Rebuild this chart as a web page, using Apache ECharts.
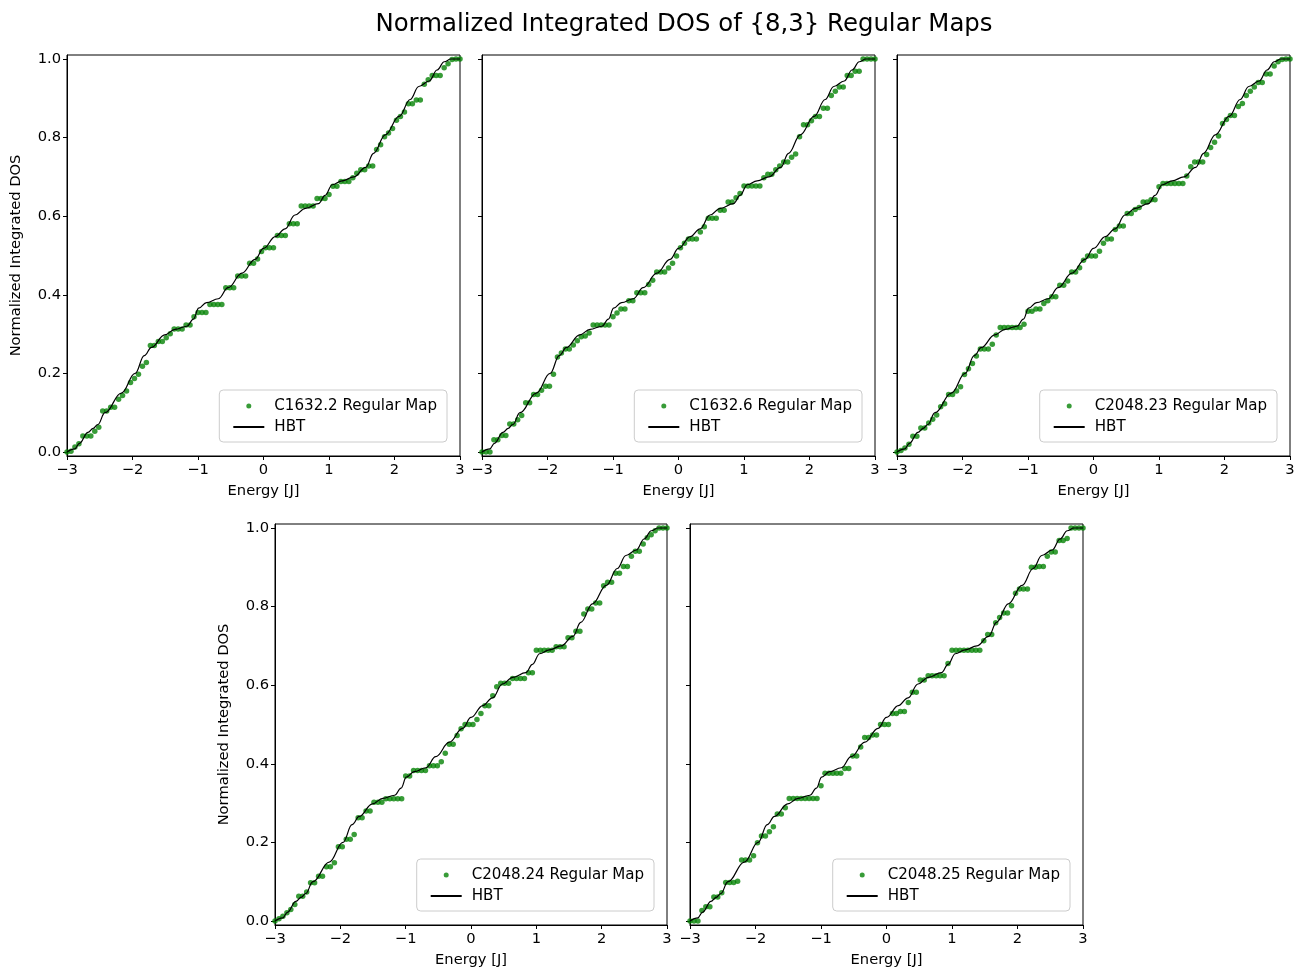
<!DOCTYPE html>
<html>
<head>
<meta charset="utf-8">
<title>Normalized Integrated DOS of {8,3} Regular Maps</title>
<script src="https://cdn.jsdelivr.net/npm/echarts@6/dist/echarts.min.js"></script>
<style>
  html, body { margin: 0; padding: 0; background: #fff; }
  #chart { width: 1305px; height: 972px; }
</style>
</head>
<body>
<div id="chart"></div>
<script>
// energy grid shared by all maps
var energy = [
  -3.000, -2.939, -2.879, -2.818, -2.758, -2.697, -2.636, -2.576, -2.515, -2.455,
  -2.394, -2.333, -2.273, -2.212, -2.152, -2.091, -2.030, -1.970, -1.909, -1.848,
  -1.788, -1.727, -1.667, -1.606, -1.545, -1.485, -1.424, -1.364, -1.303, -1.242,
  -1.182, -1.121, -1.061, -1.000, -0.939, -0.879, -0.818, -0.758, -0.697, -0.636,
  -0.576, -0.515, -0.455, -0.394, -0.333, -0.273, -0.212, -0.152, -0.091, -0.030,
  0.030, 0.091, 0.152, 0.212, 0.273, 0.333, 0.394, 0.455, 0.515, 0.576,
  0.636, 0.697, 0.758, 0.818, 0.879, 0.939, 1.000, 1.061, 1.121, 1.182,
  1.242, 1.303, 1.364, 1.424, 1.485, 1.545, 1.606, 1.667, 1.727, 1.788,
  1.848, 1.909, 1.970, 2.030, 2.091, 2.152, 2.212, 2.273, 2.333, 2.394,
  2.455, 2.515, 2.576, 2.636, 2.697, 2.758, 2.818, 2.879, 2.939, 3.000
]

var dosC1632_2 = [
  0.000, 0.002, 0.013, 0.021, 0.041, 0.041, 0.041, 0.053, 0.063, 0.104,
  0.104, 0.114, 0.114, 0.134, 0.144, 0.155, 0.177, 0.187, 0.198, 0.218,
  0.228, 0.271, 0.271, 0.281, 0.281, 0.291, 0.301, 0.313, 0.313, 0.313,
  0.323, 0.323, 0.344, 0.355, 0.355, 0.355, 0.375, 0.375, 0.375, 0.375,
  0.418, 0.418, 0.418, 0.448, 0.448, 0.448, 0.480, 0.480, 0.491, 0.510,
  0.520, 0.520, 0.520, 0.551, 0.551, 0.551, 0.581, 0.581, 0.581, 0.626,
  0.626, 0.626, 0.626, 0.645, 0.645, 0.645, 0.655, 0.676, 0.676, 0.688,
  0.688, 0.688, 0.698, 0.709, 0.718, 0.718, 0.728, 0.728, 0.770, 0.782,
  0.802, 0.812, 0.823, 0.844, 0.854, 0.865, 0.886, 0.886, 0.896, 0.896,
  0.936, 0.947, 0.958, 0.958, 0.958, 0.978, 0.988, 0.999, 1.000, 1.000
]

var dosC1632_6 = [
  0.000, 0.000, 0.000, 0.031, 0.031, 0.042, 0.042, 0.071, 0.071, 0.082,
  0.093, 0.125, 0.125, 0.146, 0.146, 0.157, 0.167, 0.167, 0.198, 0.242,
  0.252, 0.262, 0.262, 0.272, 0.283, 0.293, 0.295, 0.303, 0.323, 0.323,
  0.323, 0.323, 0.323, 0.344, 0.354, 0.364, 0.364, 0.385, 0.385, 0.405,
  0.405, 0.405, 0.426, 0.437, 0.458, 0.458, 0.458, 0.468, 0.480, 0.499,
  0.520, 0.531, 0.542, 0.542, 0.542, 0.560, 0.573, 0.595, 0.595, 0.595,
  0.615, 0.615, 0.636, 0.636, 0.647, 0.658, 0.677, 0.677, 0.677, 0.677,
  0.677, 0.698, 0.707, 0.707, 0.718, 0.728, 0.738, 0.738, 0.750, 0.758,
  0.802, 0.833, 0.833, 0.843, 0.854, 0.854, 0.875, 0.875, 0.907, 0.918,
  0.929, 0.929, 0.958, 0.958, 0.969, 0.969, 1.000, 1.000, 1.000, 1.000
]

var dosC2048_23 = [
  0.000, 0.004, 0.010, 0.020, 0.040, 0.040, 0.061, 0.061, 0.074, 0.083,
  0.094, 0.115, 0.123, 0.146, 0.146, 0.155, 0.166, 0.197, 0.212, 0.225,
  0.244, 0.262, 0.262, 0.262, 0.274, 0.298, 0.317, 0.317, 0.317, 0.317,
  0.317, 0.317, 0.325, 0.358, 0.358, 0.364, 0.364, 0.378, 0.385, 0.395,
  0.395, 0.424, 0.424, 0.435, 0.458, 0.458, 0.469, 0.488, 0.499, 0.499,
  0.499, 0.511, 0.531, 0.542, 0.542, 0.566, 0.575, 0.575, 0.607, 0.607,
  0.617, 0.622, 0.636, 0.636, 0.642, 0.642, 0.675, 0.683, 0.683, 0.683,
  0.683, 0.683, 0.683, 0.702, 0.726, 0.738, 0.738, 0.738, 0.757, 0.775,
  0.788, 0.804, 0.836, 0.846, 0.856, 0.856, 0.879, 0.887, 0.907, 0.918,
  0.929, 0.940, 0.940, 0.962, 0.962, 0.982, 0.993, 0.999, 1.000, 1.000
]

var dosC2048_24 = [
  0.000, 0.006, 0.012, 0.021, 0.029, 0.042, 0.063, 0.063, 0.074, 0.097,
  0.097, 0.114, 0.114, 0.138, 0.138, 0.148, 0.189, 0.189, 0.208, 0.208,
  0.220, 0.263, 0.263, 0.280, 0.280, 0.302, 0.302, 0.302, 0.311, 0.311,
  0.311, 0.311, 0.311, 0.369, 0.369, 0.383, 0.383, 0.383, 0.383, 0.395,
  0.395, 0.395, 0.405, 0.427, 0.450, 0.450, 0.472, 0.489, 0.500, 0.500,
  0.500, 0.513, 0.528, 0.548, 0.548, 0.573, 0.596, 0.605, 0.605, 0.605,
  0.617, 0.617, 0.617, 0.617, 0.632, 0.632, 0.689, 0.689, 0.689, 0.689,
  0.689, 0.698, 0.698, 0.698, 0.721, 0.721, 0.737, 0.737, 0.781, 0.794,
  0.794, 0.809, 0.809, 0.853, 0.862, 0.862, 0.885, 0.885, 0.902, 0.902,
  0.928, 0.941, 0.941, 0.959, 0.975, 0.983, 0.993, 1.000, 1.000, 1.000
]

var dosC2048_25 = [
  0.000, 0.000, 0.000, 0.027, 0.036, 0.036, 0.061, 0.061, 0.072, 0.098,
  0.098, 0.098, 0.101, 0.155, 0.155, 0.155, 0.166, 0.199, 0.216, 0.216,
  0.227, 0.240, 0.272, 0.272, 0.288, 0.312, 0.312, 0.312, 0.312, 0.312,
  0.312, 0.312, 0.312, 0.344, 0.376, 0.376, 0.376, 0.376, 0.376, 0.388,
  0.388, 0.420, 0.420, 0.443, 0.467, 0.467, 0.473, 0.473, 0.500, 0.500,
  0.500, 0.528, 0.528, 0.533, 0.533, 0.556, 0.582, 0.582, 0.613, 0.613,
  0.624, 0.624, 0.624, 0.624, 0.624, 0.655, 0.689, 0.689, 0.689, 0.689,
  0.689, 0.689, 0.689, 0.689, 0.713, 0.729, 0.729, 0.759, 0.772, 0.784,
  0.784, 0.802, 0.834, 0.845, 0.845, 0.845, 0.900, 0.900, 0.902, 0.902,
  0.928, 0.939, 0.939, 0.968, 0.968, 0.973, 1.000, 1.000, 1.000, 1.000
]

// HBT prediction (same for every map)
var hbtEnergy = [-3.00, -2.88, -2.81, -2.68, -2.60, -2.53, -2.42, -2.17, -1.96, -1.82,
  -1.71, -1.51, -1.35, -1.17, -1.07, -0.99, -0.87, -0.69, -0.54, -0.33,
  -0.13, 0.00, 0.18, 0.33, 0.48, 0.64, 0.84, 0.94, 1.05, 1.20,
  1.38, 1.56, 1.68, 1.86, 2.07, 2.24, 2.37, 2.53, 2.65, 2.76, 2.86, 3.00]
var hbtDos = [0.000, 0.008, 0.022, 0.050, 0.060, 0.070, 0.100, 0.150, 0.200, 0.245,
  0.266, 0.298, 0.312, 0.320, 0.338, 0.366, 0.380, 0.390, 0.418, 0.455,
  0.490, 0.518, 0.548, 0.568, 0.603, 0.620, 0.632, 0.653, 0.680, 0.690,
  0.700, 0.724, 0.760, 0.807, 0.854, 0.897, 0.930, 0.944, 0.972, 0.993, 1.000, 1.000]

var mapNames = ['C1632.2', 'C1632.6', 'C2048.23', 'C2048.24', 'C2048.25']
var mapDos = [dosC1632_2, dosC1632_6, dosC2048_23, dosC2048_24, dosC2048_25]
var yTicks = [0, 0.2, 0.4, 0.6, 0.8, 1.0]

// panel boxes in px: left, top, width, height
var boxes = [
  [67, 55, 393, 401],
  [482, 55, 393, 401],
  [897, 55, 393, 401],
  [275, 524, 392, 401],
  [690, 524, 393, 401]
]

var FONT = 'DejaVu Sans'
var FS = 14.7
var chart = echarts.init(document.getElementById('chart'), null, { renderer: 'canvas' })

function pairs(xs, ys) {
  return xs.map(function (x, i) { return [x, ys[i]] })
}
function minusFmt(v) {
  return v < 0 ? '\u2212' + Math.abs(v) : String(v)
}

var grid = [], xAxis = [], yAxis = [], series = [], legend = []

boxes.forEach(function (b, k) {
  var showY = (k === 0 || k === 3)
  grid.push({
    left: b[0], top: b[1], width: b[2], height: b[3],
    show: true, borderColor: '#000', borderWidth: 1, backgroundColor: '#fff'
  })
  xAxis.push({
    type: 'value', gridIndex: k, min: -3, max: 3, interval: 1,
    name: 'Energy [J]', nameLocation: 'middle', nameGap: 28,
    nameTextStyle: { fontFamily: FONT, fontSize: FS, color: '#000' },
    axisLine: { show: true, onZero: false, lineStyle: { color: '#000', width: 1 } },
    axisTick: { show: true, inside: false, length: 4, lineStyle: { color: '#000' } },
    axisLabel: { fontFamily: FONT, fontSize: FS, color: '#000', margin: 7, formatter: minusFmt },
    splitLine: { show: false }
  })
  yAxis.push({
    type: 'value', gridIndex: k, min: -0.0102, max: 1.0102,
    name: showY ? 'Normalized Integrated DOS' : '',
    nameLocation: 'middle', nameGap: 43,
    nameTextStyle: { fontFamily: FONT, fontSize: FS, color: '#000' },
    axisLine: { show: true, onZero: false, lineStyle: { color: '#000', width: 1 } },
    axisTick: { show: true, inside: false, length: 4, customValues: yTicks, lineStyle: { color: '#000' } },
    axisLabel: {
      show: showY, customValues: yTicks, fontFamily: FONT, fontSize: FS, color: '#000', margin: 6,
      formatter: function (v) { return v.toFixed(1) }
    },
    splitLine: { show: false }
  })
  var label = mapNames[k] + ' Regular Map'
  series.push({
    name: label, type: 'scatter', xAxisIndex: k, yAxisIndex: k,
    data: pairs(energy, mapDos[k]),
    symbol: 'circle', symbolSize: 5.5,
    itemStyle: { color: 'rgb(0,128,0)', opacity: 0.78 },
    z: 2
  })
  series.push({
    name: 'HBT', type: 'line', xAxisIndex: k, yAxisIndex: k,
    data: pairs(hbtEnergy, hbtDos),
    showSymbol: false, symbol: 'none', smooth: 0.4, smoothMonotone: 'x',
    lineStyle: { color: '#000', width: 1.2 },
    itemStyle: { color: 'rgba(0,0,0,0)', borderWidth: 0 },
    z: 3
  })
  legend.push({
    data: [
      { name: label, icon: 'circle' },
      { name: 'HBT', itemStyle: { color: 'rgba(0,0,0,0)', borderWidth: 0 } }
    ],
    orient: 'vertical',
    right: 1305 - (b[0] + b[2] - 13),
    bottom: 972 - (b[1] + b[3] - 14),
    itemWidth: 31, itemHeight: 5, itemGap: 3,
    padding: [7, 10, 6, 13],
    backgroundColor: 'rgba(255,255,255,0.8)',
    borderColor: '#cccccc', borderWidth: 1, borderRadius: 4,
    selectedMode: false,
    textStyle: { fontFamily: FONT, fontSize: 15.1, color: '#000', padding: [0, 0, 0, 5], lineHeight: 18 }
  })
})

chart.setOption({
  animation: false,
  backgroundColor: '#fff',
  title: {
    text: 'Normalized Integrated DOS of {8,3} Regular Maps',
    left: 679, top: 8, textAlign: 'center',
    textStyle: { fontFamily: FONT, fontSize: 24.4, fontWeight: 'normal', color: '#000' }
  },
  grid: grid,
  xAxis: xAxis,
  yAxis: yAxis,
  legend: legend,
  series: series
})
</script>
</body>
</html>
